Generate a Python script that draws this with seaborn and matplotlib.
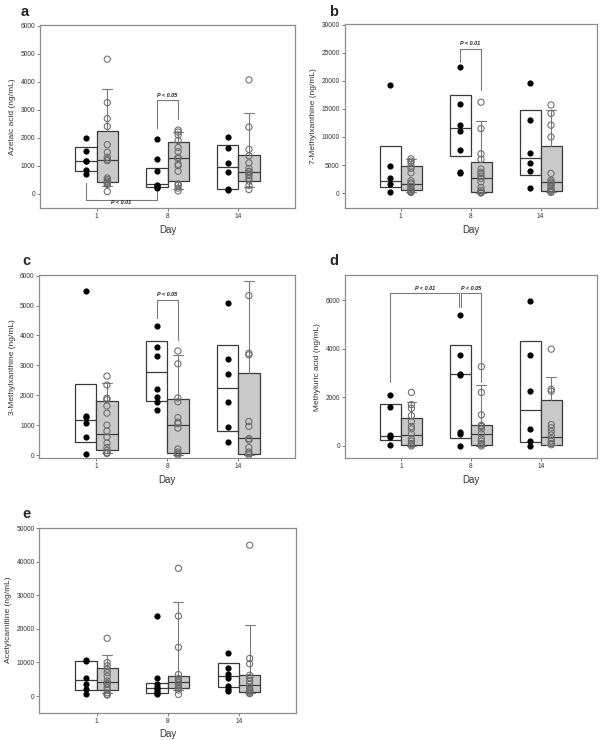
import numpy as np
import pandas as pd
import matplotlib
matplotlib.use('Agg')
import matplotlib.pyplot as plt
import seaborn as sns

days = ['1', '8', '14']

# a - azelaic acid; white = filled dots group, grey = open circles group
a_white = [[700, 840, 1160, 1160, 1520, 2000],
           [200, 230, 260, 300, 800, 1250, 1960],
           [130, 180, 780, 1100, 1620, 2030]]
a_grey = [[80, 330, 370, 410, 450, 500, 560, 1180, 1220, 1300, 1480, 1750, 2400, 2680, 3250, 4800],
          [100, 200, 300, 350, 800, 1000, 1050, 1250, 1300, 1500, 1650, 1900, 2100, 2200, 2270],
          [150, 300, 450, 550, 650, 700, 780, 800, 900, 1100, 1350, 1580, 2380, 4060]]
a_white_box = [[810, 1160, 1650], [240, 350, 920], [180, 950, 1730]]          # q1, med, q3
a_grey_box = [[260, 420, 1200, 2240, 3720], [180, 460, 1270, 1830, 2200],
              [240, 460, 780, 1380, 2880]]                                     # p10, q1, med, q3, p90

# b - 7-methylxanthine
b_white = [[200, 1700, 2700, 4800, 19300],
           [3600, 3700, 7600, 11100, 12100, 15900, 22500],
           [900, 4000, 5400, 7100, 13100, 19700]]
b_grey = [[100, 200, 300, 400, 600, 800, 1200, 1600, 1800, 2200, 3600, 4400, 4800, 5400, 5700, 6100],
          [0, 100, 200, 500, 1000, 2000, 2600, 3000, 3500, 3700, 4300, 6000, 7000, 11500, 16200],
          [100, 300, 500, 800, 1200, 1500, 1800, 2000, 2300, 3500, 10000, 12100, 14200, 15700]]
b_white_box = [[1130, 2200, 8440], [6600, 11600, 17500], [3150, 6240, 14800]]
b_grey_box = [[100, 475, 1660, 4750, 6000], [50, 240, 2610, 5590, 12900],
              [100, 400, 1900, 8320, 14800]]

# c - 3-methylxanthine
c_white = [[50, 590, 1080, 1270, 1320, 5500],
           [1490, 1770, 1930, 2220, 3320, 3620, 4300],
           [430, 930, 1760, 2700, 3200, 5070]]
c_grey = [[50, 80, 150, 250, 400, 600, 800, 1000, 1400, 1640, 1850, 1900, 2340, 2640],
          [0, 50, 100, 200, 900, 1050, 1100, 1250, 1780, 1910, 3050, 3480],
          [0, 50, 100, 250, 500, 550, 960, 1120, 3350, 3400, 5330]]
c_white_box = [[446, 1180, 2375], [1795, 2765, 3800], [803, 2230, 3670]]
c_grey_box = [[55, 167, 690, 1818, 2420], [10, 56, 1000, 1885, 3335],
              [10, 45, 558, 2755, 5830]]

# d - methyluric acid
d_white = [[50, 370, 450, 1620, 2080],
           [0, 500, 570, 2900, 2950, 3740, 5400],
           [0, 200, 680, 2250, 3750, 5980]]
d_grey = [[0, 50, 100, 200, 300, 500, 700, 800, 1000, 1250, 1550, 1700, 2200],
          [0, 50, 100, 200, 300, 500, 700, 800, 850, 1280, 2200, 3260],
          [50, 100, 200, 300, 450, 600, 750, 880, 2250, 2330, 3980]]
d_white_box = [[233, 425, 1740], [342, 2945, 4164], [150, 1466, 4315]]
d_grey_box = [[10, 50, 466, 1137, 1808], [10, 50, 493, 863, 2507],
              [20, 60, 370, 1877, 2820]]

# e - acetylcarnitine
e_white = [[500, 2000, 3600, 5400, 10300, 10600],
           [500, 1000, 1500, 2200, 2800, 3700, 5300, 23800],
           [1500, 2000, 3000, 5500, 6500, 8500, 12900]]
e_grey = [[300, 500, 1000, 1800, 2500, 3500, 3800, 4500, 5900, 7000, 8000, 9000, 10000, 17200],
          [500, 1800, 2500, 3000, 3500, 4000, 4500, 5200, 6400, 14500, 23800, 38000],
          [700, 900, 1200, 1500, 2000, 2500, 3500, 4500, 5500, 6200, 9600, 11200, 44900]]
e_white_box = [[1780, 4650, 10400], [990, 2280, 3860], [2570, 5940, 9700]]
e_grey_box = [[800, 1900, 4160, 8420, 12080], [1800, 2480, 4260, 6040, 28120],
              [800, 1090, 3170, 6240, 21290]]

# brackets: (day, group, day, group, y left end, y top, y right end, text, text y, nudge left, nudge right)
a_brackets = [(1, 'w', 1, 'g', 2350, 3350, 2670, 'P < 0.05', 3500, 0, 0),
              (0, 'w', 1, 'w', 390, -215, 70, 'P < 0.01', -330, 0, 0)]
b_brackets = [(1, 'w', 1, 'g', 23460, 25670, 18400, 'P < 0.01', 26740, 0, 0)]
c_brackets = [(1, 'w', 1, 'g', 4570, 5200, 3840, 'P < 0.05', 5370, 0, 0)]
d_brackets = [(0, 'w', 1, 'w', 2620, 6270, 5720, 'P < 0.01', 6480, 0, -0.015),
              (1, 'w', 1, 'g', 5720, 6270, 2650, 'P < 0.05', 6480, 0.015, 0)]

sns.set_style('ticks')
plt.rcParams['font.family'] = ['Liberation Sans', 'DejaVu Sans']

off = {'w': -0.15, 'g': 0.15}
line_c = '#3a3a3a'
grey_c = '#7a7a7a'


def panel(rect, letter, letter_xy, white, grey, wbox, gbox, ylabel, ylim, yticks, brackets):
    ax = fig.add_axes(rect)
    rows = []
    for i in range(len(days)):
        rows += [(i + off['w'], v, 'w') for v in white[i]]
        rows += [(i + off['g'], v, 'g') for v in grey[i]]
    df = pd.DataFrame(rows, columns=['pos', 'value', 'group'])

    wstats = [dict(q1=b[0], med=b[1], q3=b[2], whislo=b[0], whishi=b[2]) for b in wbox]
    gstats = [dict(whislo=b[0], q1=b[1], med=b[2], q3=b[3], whishi=b[4]) for b in gbox]
    pos = np.arange(len(days))
    ax.bxp(wstats, positions=pos + off['w'], widths=0.3, patch_artist=True,
           showfliers=False, showcaps=False, manage_ticks=False,
           boxprops=dict(facecolor='white', edgecolor=line_c, linewidth=0.9),
           medianprops=dict(color=line_c, linewidth=0.9),
           whiskerprops=dict(linewidth=0))
    ax.bxp(gstats, positions=pos + off['g'], widths=0.3, patch_artist=True,
           showfliers=False, manage_ticks=False, capwidths=0.14,
           boxprops=dict(facecolor='#c9c9c9', edgecolor=line_c, linewidth=0.9),
           medianprops=dict(color=line_c, linewidth=0.9),
           whiskerprops=dict(color=grey_c, linewidth=0.8),
           capprops=dict(color=grey_c, linewidth=0.8))

    sns.scatterplot(data=df[df.group == 'w'], x='pos', y='value', color='black',
                    s=20, linewidth=0, zorder=3, ax=ax, legend=False)
    sns.scatterplot(data=df[df.group == 'g'], x='pos', y='value', marker='o',
                    facecolor='none', edgecolor='#6a6a6a', linewidth=0.75,
                    s=20, zorder=3, ax=ax, legend=False)

    for d1, g1, d2, g2, yl, yt, yr, txt, ty, n1, n2 in brackets:
        x1 = d1 + off[g1] + n1
        x2 = d2 + off[g2] + n2
        ax.plot([x1, x1, x2, x2], [yl, yt, yt, yr], color=grey_c, lw=0.8, zorder=2)
        ax.text((x1 + x2) / 2, ty, txt, ha='center', va='center', fontsize=4,
                fontweight='bold', style='italic', color='#222222')

    ax.set_xlim(-0.8, 2.8)
    ax.set_ylim(*ylim)
    ax.set_xticks(pos)
    ax.set_xticklabels(days)
    ax.set_yticks(yticks)
    ax.set_xlabel('Day', fontsize=7, color='#333333', labelpad=3.5)
    ax.set_ylabel(ylabel, fontsize=6, color='#333333', labelpad=3)
    ax.tick_params(direction='out', length=2, width=0.6, color='#666666',
                   labelsize=4.8, labelcolor='#333333', pad=1.5)
    for s in ax.spines.values():
        s.set_visible(True)
        s.set_color('#8c8c8c')
        s.set_linewidth(0.9)
    fig.text(letter_xy[0] / 600, 1 - letter_xy[1] / 740, letter, fontsize=10.5,
             fontweight='bold', va='baseline', ha='left')
    return ax


fig = plt.figure(figsize=(6, 7.4), dpi=100)

panel([40 / 600, 1 - 208 / 740, 255 / 600, 183 / 740], 'a', (21, 16),
      a_white, a_grey, a_white_box, a_grey_box, 'Azelaic acid (ng/mL)',
      (-510, 6020), range(0, 6001, 1000), a_brackets)
panel([344.5 / 600, 1 - 208 / 740, 252 / 600, 183.7 / 740], 'b', (329, 16),
      b_white, b_grey, b_white_box, b_grey_box, '7-Methylxanthine (ng/mL)',
      (-2670, 30100), range(0, 30001, 5000), b_brackets)
panel([39.5 / 600, 1 - 458.3 / 740, 255.5 / 600, 183.3 / 740], 'c', (22, 265),
      c_white, c_grey, c_white_box, c_grey_box, '3-Methylxanthine (ng/mL)',
      (-110, 6020), range(0, 6001, 1000), c_brackets)
panel([345 / 600, 1 - 458.3 / 740, 251.7 / 600, 183.3 / 740], 'd', (329, 265),
      d_white, d_grey, d_white_box, d_grey_box, 'Methyluric acid (ng/mL)',
      (-507, 7030), range(0, 6001, 2000), d_brackets)
panel([39.5 / 600, 1 - 712.7 / 740, 256.5 / 600, 185 / 740], 'e', (22, 518),
      e_white, e_grey, e_white_box, e_grey_box, 'Acetylcarnitine (ng/mL)',
      (-4950, 50100), range(0, 50001, 10000), [])

fig.savefig('out.png', dpi=100)
